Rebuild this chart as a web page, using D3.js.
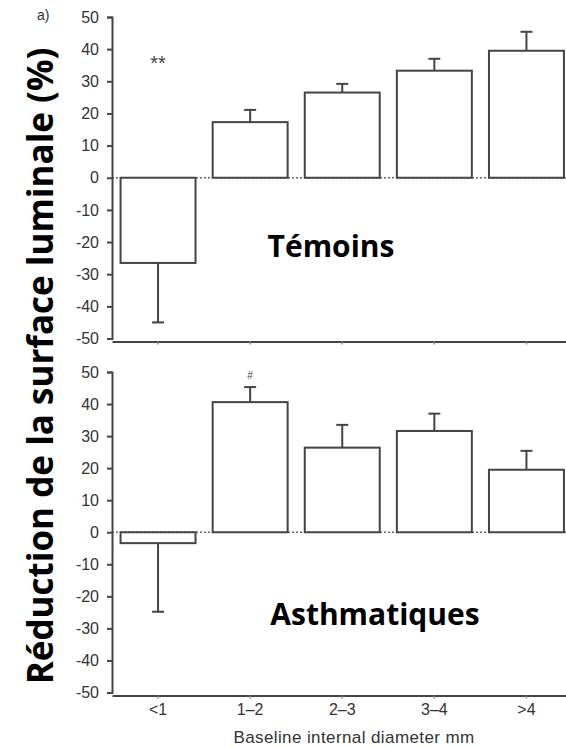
<!DOCTYPE html>
<html>
<head>
<meta charset="utf-8">
<script src="https://cdn.jsdelivr.net/npm/d3@7"></script>
<style>
  html, body { margin: 0; padding: 0; background: #fff; }
  svg { display: block; }
  .tick text { font-family: "Liberation Sans", Arial, sans-serif; fill: #333; }
</style>
</head>
<body>
<div id="chart"></div>
<script>
// Diameter classes (mm) on the x axis
const categories = ["<1", "1–2", "2–3", "3–4", ">4"];
// Mean reduction of luminal area (%) and SEM, controls
const temoinsMean = [-26.5, 17.3, 26.5, 33.3, 39.5];
const temoinsSem  = [18.5, 3.8, 2.7, 3.7, 5.9];
// Mean reduction of luminal area (%) and SEM, asthmatics
const asthmaMean = [-3.4, 40.6, 26.4, 31.6, 19.5];
const asthmaSem  = [21.4, 4.7, 7.1, 5.4, 5.9];
// Y axis ticks
const yTicks = [-50, -40, -30, -20, -10, 0, 10, 20, 30, 40, 50];

const W = 566, H = 748;
const ink = "#444";
const labelFont = "'Open Sans', sans-serif";

const svg = d3.select("#chart").append("svg")
  .attr("width", W).attr("height", H);

const x = d3.scaleBand()
  .domain(categories)
  .range([112, 572.5])
  .paddingInner(0.186)
  .paddingOuter(0.093);

const panels = [
  { name: "Témoins", mean: temoinsMean, sem: temoinsSem,
    range: [338.5, 17], labelX: 331, labelY: 257, note: "**", noteIdx: 0, noteY: 70, noteSize: 20, showX: false },
  { name: "Asthmatiques", mean: asthmaMean, sem: asthmaSem,
    range: [692.5, 372], labelX: 375, labelY: 625, note: "#", noteIdx: 1, noteY: 379, noteSize: 10, showX: true }
];

panels.forEach(p => {
  const y = d3.scaleLinear().domain([-50, 50]).range(p.range);
  const g = svg.append("g");

  // dotted zero reference
  g.append("line")
    .attr("x1", 112).attr("x2", 572.5)
    .attr("y1", y(0)).attr("y2", y(0))
    .attr("stroke", "#666").attr("stroke-width", 1.5)
    .attr("stroke-dasharray", "2,2");

  const rows = categories.map((c, i) => ({ c, m: p.mean[i], s: p.sem[i] }));

  // error bars (drawn away from zero)
  const eb = g.selectAll(".err").data(rows).join("g").attr("class", "err");
  eb.append("line")
    .attr("x1", d => x(d.c) + x.bandwidth() / 2)
    .attr("x2", d => x(d.c) + x.bandwidth() / 2)
    .attr("y1", d => y(d.m))
    .attr("y2", d => y(d.m + Math.sign(d.m) * d.s))
    .attr("stroke", ink).attr("stroke-width", 2);
  eb.append("line")
    .attr("x1", d => x(d.c) + x.bandwidth() / 2 - 6)
    .attr("x2", d => x(d.c) + x.bandwidth() / 2 + 6)
    .attr("y1", d => y(d.m + Math.sign(d.m) * d.s))
    .attr("y2", d => y(d.m + Math.sign(d.m) * d.s))
    .attr("stroke", ink).attr("stroke-width", 2);

  // bars
  g.selectAll(".bar").data(rows).join("rect")
    .attr("class", "bar")
    .attr("x", d => x(d.c))
    .attr("width", x.bandwidth())
    .attr("y", d => Math.min(y(d.m), y(0)))
    .attr("height", d => Math.abs(y(d.m) - y(0)))
    .attr("fill", "#fff")
    .attr("stroke", ink).attr("stroke-width", 2);

  // y axis (plain hyphen for negatives)
  const ya = g.append("g")
    .attr("transform", "translate(112,0)")
    .call(d3.axisLeft(y).tickValues(yTicks).tickFormat(d => String(d))
      .tickSize(5).tickSizeOuter(5).tickPadding(8));
  ya.selectAll("path, line").attr("stroke", ink).attr("stroke-width", 2);
  ya.selectAll("text").style("font-size", "16px").attr("fill", "#333");

  // x axis
  const xa = g.append("g")
    .attr("transform", `translate(0,${y(-50) + 3})`)
    .call(d3.axisBottom(x).tickSize(3).tickSizeOuter(0).tickPadding(5));
  xa.select(".domain").attr("stroke", ink).attr("stroke-width", 2);
  xa.selectAll(".tick line").attr("stroke", "#888").attr("stroke-width", 1.5);
  xa.selectAll("text").style("font-size", "16px").attr("fill", "#333")
    .attr("opacity", p.showX ? 1 : 0);

  // significance mark
  g.append("text")
    .attr("x", x(categories[p.noteIdx]) + x.bandwidth() / 2)
    .attr("y", p.noteY)
    .attr("text-anchor", "middle")
    .attr("font-family", "Liberation Sans, Arial, sans-serif")
    .attr("font-size", p.noteSize)
    .attr("fill", "#444")
    .text(p.note);

  // group label
  g.append("text")
    .attr("x", p.labelX).attr("y", p.labelY)
    .attr("text-anchor", "middle")
    .attr("font-family", labelFont)
    .attr("font-weight", "bold")
    .attr("font-size", 30)
    .attr("fill", "#000")
    .text(p.name);
});

// x axis title
svg.append("text")
  .attr("x", 354).attr("y", 743)
  .attr("text-anchor", "middle")
  .attr("font-family", "Liberation Sans, Arial, sans-serif")
  .attr("font-size", 17)
  .attr("letter-spacing", 0.4)
  .attr("fill", "#333")
  .text("Baseline internal diameter mm");

// panel tag
svg.append("text")
  .attr("x", 37).attr("y", 20)
  .attr("font-family", "Liberation Sans, Arial, sans-serif")
  .attr("font-size", 14)
  .attr("fill", "#333")
  .text("a)");

// y axis title
svg.append("text")
  .attr("transform", "translate(53,366) rotate(-90)")
  .attr("text-anchor", "middle")
  .attr("font-family", labelFont)
  .attr("font-weight", "bold")
  .attr("font-size", 35)
  .attr("fill", "#000")
  .text("Réduction de la surface luminale (%)");
</script>
</body>
</html>
